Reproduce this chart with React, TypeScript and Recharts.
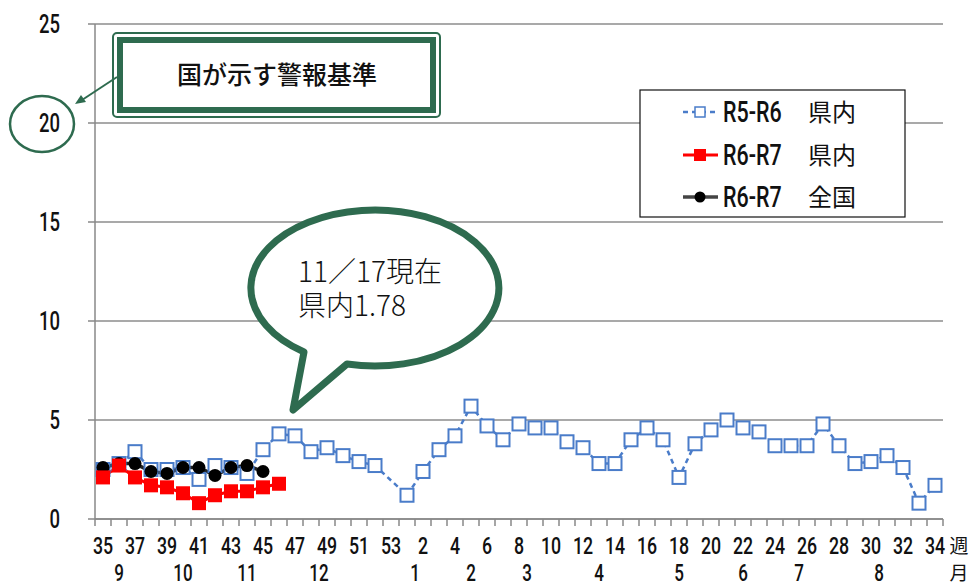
import React from "react";
import { LineChart, Line, XAxis, YAxis, CartesianGrid } from "recharts";

const WEEKS = [
  "35", "36", "37", "38", "39", "40", "41", "42", "43", "44", "45", "46", "47", "48", "49", "50", "51", "52", "53",
  "1", "2", "3", "4", "5", "6", "7", "8", "9", "10", "11", "12", "13", "14", "15", "16", "17", "18", "19", "20",
  "21", "22", "23", "24", "25", "26", "27", "28", "29", "30", "31", "32", "33", "34",
];

// R5-R6 県内 (week 53 does not exist that season)
const R5R6 = [
  2.5, 2.8, 3.4, 2.5, 2.5, 2.6, 2.0, 2.7, 2.6, 2.3, 3.5, 4.3, 4.2, 3.4, 3.6, 3.2, 2.9, 2.7, null,
  1.2, 2.4, 3.5, 4.2, 5.7, 4.7, 4.0, 4.8, 4.6, 4.6, 3.9, 3.6, 2.8, 2.8, 4.0, 4.6, 4.0, 2.1, 3.8, 4.5,
  5.0, 4.6, 4.4, 3.7, 3.7, 3.7, 4.8, 3.7, 2.8, 2.9, 3.2, 2.6, 0.8, 1.7,
];
// R6-R7 県内
const R6R7_PREF = [2.1, 2.7, 2.1, 1.7, 1.6, 1.3, 0.8, 1.2, 1.4, 1.4, 1.6, 1.78];
// R6-R7 全国
const R6R7_NATION = [2.6, 2.8, 2.8, 2.4, 2.3, 2.6, 2.6, 2.2, 2.6, 2.7, 2.4];

const Y_TICKS = [0, 5, 10, 15, 20, 25];

// month label, centred over weeks [from, to]
const MONTHS = [
  { label: "9", from: "36", to: "36" },
  { label: "10", from: "40", to: "40" },
  { label: "11", from: "44", to: "44" },
  { label: "12", from: "48", to: "49" },
  { label: "1", from: "1", to: "2" },
  { label: "2", from: "5", to: "5" },
  { label: "3", from: "8", to: "9" },
  { label: "4", from: "13", to: "13" },
  { label: "5", from: "18", to: "18" },
  { label: "6", from: "22", to: "22" },
  { label: "7", from: "25", to: "26" },
  { label: "8", from: "30", to: "31" },
];

const data = WEEKS.map((week, i) => ({
  week,
  r5: R5R6[i],
  pref: i < R6R7_PREF.length ? R6R7_PREF[i] : null,
  nation: i < R6R7_NATION.length ? R6R7_NATION[i] : null,
}));

const W = 971;
const H = 585;
const MARGIN = { top: 24, right: 28, bottom: 0, left: 0 };
const X_AXIS_H = 66;
const Y_AXIS_W = 95;
const BAND = (W - MARGIN.right - Y_AXIS_W) / WEEKS.length;
const AXIS_Y = H - X_AXIS_H;

const GREEN = "#2E6B4F";
const BLUE = "#4A7CC9";
const NUM = "Roboto, 'Liberation Sans', sans-serif";
const JP = "'Noto Sans CJK JP', 'Noto Sans', sans-serif";
const SQUEEZE = 0.74;

// condensed number text
function Narrow({ x, y, anchor, size, children }: any) {
  return (
    <text
      transform={`translate(${x},${y}) scale(${SQUEEZE},1)`}
      textAnchor={anchor}
      fontSize={size}
      fontFamily={NUM}
      fontWeight={500}
      fill='#111'
    >
      {children}
    </text>
  );
}

function WeekTick(props: any) {
  const { x, payload } = props;
  const i = payload.index;
  const week = String(payload.value);
  const month = MONTHS.find((m) => m.from === week);
  let monthX = x;
  if (month) {
    const span = WEEKS.indexOf(month.to) - WEEKS.indexOf(month.from);
    monthX = x + (span * BAND) / 2;
  }
  const last = i === WEEKS.length - 1;
  return (
    <g>
      <line x1={x - BAND / 2} x2={x - BAND / 2} y1={AXIS_Y} y2={AXIS_Y + 7} stroke='#888' strokeWidth={1.5} />
      {last && (
        <line x1={x + BAND / 2} x2={x + BAND / 2} y1={AXIS_Y} y2={AXIS_Y + 7} stroke='#888' strokeWidth={1.5} />
      )}
      {i % 2 === 0 && (
        <Narrow x={x} y={AXIS_Y + 35} anchor='middle' size={24}>
          {week}
        </Narrow>
      )}
      {month && (
        <Narrow x={monthX} y={AXIS_Y + 62} anchor='middle' size={23}>
          {month.label}
        </Narrow>
      )}
      {last && (
        <>
          <text x={x + 24} y={AXIS_Y + 34} textAnchor='middle' fontSize={19} fontFamily={JP} fill='#111'>
            週
          </text>
          <text x={x + 24} y={AXIS_Y + 61} textAnchor='middle' fontSize={19} fontFamily={JP} fill='#111'>
            月
          </text>
        </>
      )}
    </g>
  );
}

function ValueTick(props: any) {
  const { x, y, payload } = props;
  return (
    <Narrow x={x} y={y + 9} anchor='end' size={25}>
      {payload.value}
    </Narrow>
  );
}

function OpenSquare(props: any) {
  const { cx, cy, index, value } = props;
  if (value == null || cx == null || cy == null) return <g key={`s${index}`} />;
  return (
    <rect key={`s${index}`} x={cx - 6.5} y={cy - 6.5} width={13} height={13} fill='#fff' stroke={BLUE} strokeWidth={2} />
  );
}

function RedSquare(props: any) {
  const { cx, cy, index, value } = props;
  if (value == null || cx == null || cy == null) return <g key={`r${index}`} />;
  return <rect key={`r${index}`} x={cx - 7} y={cy - 7} width={14} height={14} fill='#FF0000' />;
}

function BlackDot(props: any) {
  const { cx, cy, index, value } = props;
  if (value == null || cx == null || cy == null) return <g key={`b${index}`} />;
  return <circle key={`b${index}`} cx={cx} cy={cy} r={6.5} fill='#000' />;
}

function LegendRow({ y, label, where, children }: any) {
  return (
    <g>
      {children}
      <Narrow x={723} y={y + 10} anchor='start' size={29}>
        {label}
      </Narrow>
      <text x={808} y={y + 9} fontSize={24} fontFamily={JP} fill='#111'>
        {where}
      </text>
    </g>
  );
}

function Overlay() {
  return (
    <svg width={W} height={H} style={{ position: "absolute", left: 0, top: 0, pointerEvents: "none" }}>
      {/* warning level box */}
      <rect x={113} y={33} width={327} height={84} rx={4} fill='#fff' stroke={GREEN} strokeWidth={2} />
      <rect x={120} y={40} width={313} height={70} fill='#fff' stroke={GREEN} strokeWidth={6} />
      <text x={277} y={84} textAnchor='middle' fontSize={25} fontFamily={JP} fontWeight={500} fill='#111'>
        国が示す警報基準
      </text>
      <line x1={117} y1={77} x2={82} y2={100} stroke={GREEN} strokeWidth={2} />
      <polygon points='75,104 81,95 86,102' fill={GREEN} />
      <ellipse cx={42} cy={124} rx={32} ry={28} fill='none' stroke={GREEN} strokeWidth={2.5} />

      {/* speech bubble */}
      <path
        d='M 304 352 A 124 78 0 1 1 347 364 L 293 410 Z'
        fill='#fff'
        stroke={GREEN}
        strokeWidth={7}
        strokeLinejoin='round'
      />
      <text fontSize={28} fontFamily={JP} fontWeight={300} fill='#111'>
        <tspan x={298} y={282}>11／17現在</tspan>
        <tspan x={298} y={316}>県内1.78</tspan>
      </text>

      {/* legend */}
      <rect x={640} y={90} width={265} height={127} fill='#fff' stroke='#111' strokeWidth={1.2} />
      <LegendRow y={112} label='R5-R6' where='県内'>
        <line x1={683} x2={718} y1={112} y2={112} stroke={BLUE} strokeWidth={2.5} strokeDasharray='5 4' />
        <rect x={695} y={107} width={10} height={10} fill='#fff' stroke={BLUE} strokeWidth={1.5} />
      </LegendRow>
      <LegendRow y={155} label='R6-R7' where='県内'>
        <line x1={683} x2={718} y1={155} y2={155} stroke='#FF0000' strokeWidth={3} />
        <rect x={694} y={149} width={12} height={12} fill='#FF0000' />
      </LegendRow>
      <LegendRow y={197} label='R6-R7' where='全国'>
        <line x1={683} x2={718} y1={197} y2={197} stroke='#444' strokeWidth={3.5} />
        <circle cx={700} cy={197} r={5.5} fill='#000' />
      </LegendRow>
    </svg>
  );
}

export default function App() {
  return (
    <div style={{ position: "absolute", left: 0, top: 0, width: W, height: H, background: "#fff" }}>
      <LineChart width={W} height={H} data={data} margin={MARGIN}>
        <CartesianGrid stroke='#8C8C8C' strokeWidth={1.5} vertical={false} />
        <XAxis
          dataKey='week'
          interval={0}
          padding={{ left: BAND / 2, right: BAND / 2 }}
          axisLine={{ stroke: "#888", strokeWidth: 1.5 }}
          tickLine={false}
          tickSize={0}
          tick={<WeekTick />}
          height={X_AXIS_H}
        />
        <YAxis
          width={Y_AXIS_W}
          domain={[0, 25]}
          ticks={Y_TICKS}
          interval={0}
          axisLine={{ stroke: "#888", strokeWidth: 1.5 }}
          tickLine={{ stroke: "#888", strokeWidth: 1.5 }}
          tickSize={7}
          tickMargin={28}
          tick={<ValueTick />}
        />
        <Line
          dataKey='r5'
          stroke={BLUE}
          strokeWidth={2.5}
          strokeDasharray='5 4'
          connectNulls
          dot={OpenSquare}
          activeDot={false}
          isAnimationActive={false}
        />
        <Line
          dataKey='nation'
          stroke='#222'
          strokeWidth={3.5}
          dot={BlackDot}
          activeDot={false}
          isAnimationActive={false}
        />
        <Line
          dataKey='pref'
          stroke='#FF0000'
          strokeWidth={3}
          dot={RedSquare}
          activeDot={false}
          isAnimationActive={false}
        />
      </LineChart>
      <Overlay />
    </div>
  );
}
